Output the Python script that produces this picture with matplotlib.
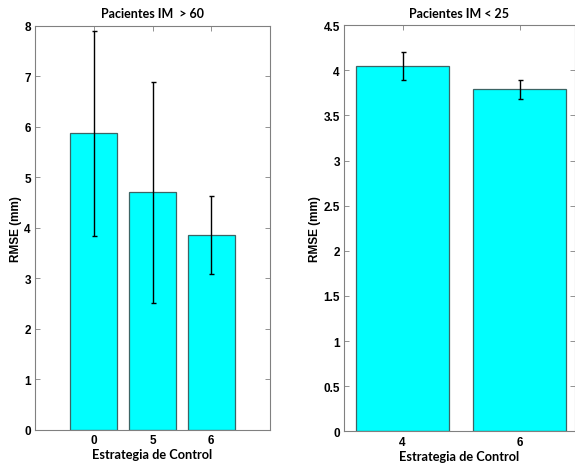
import matplotlib
matplotlib.use('Agg')
import matplotlib.pyplot as plt

# RMSE por estrategia de control, dos grupos de pacientes
estrategias_a = ['0', '5', '6']
rmse_a = [5.87, 4.70, 3.86]
err_a = [2.03, 2.19, 0.77]

estrategias_b = ['4', '6']
rmse_b = [4.05, 3.79]
err_b = [0.155, 0.105]

W, H = 575, 464
fig = plt.figure(figsize=(W / 100, H / 100), dpi=100)

tick_font = {'family': 'Liberation Sans', 'weight': 'bold', 'size': 8.5}
xlab_font = {'family': 'Lato', 'weight': 'bold', 'size': 9.2}
title_font = {'family': 'Lato', 'weight': 'bold', 'size': 9}


def panel(rect, names, vals, errs, xlim, ylim, yticks, titulo):
    x0, y0, x1, y1 = rect
    ax = fig.add_axes([x0 / W, 1 - y1 / H, (x1 - x0) / W, (y1 - y0) / H])
    pos = list(range(1, len(vals) + 1))
    ax.bar(pos, vals, width=0.8, color='#00ffff', edgecolor='#3c6464',
           linewidth=0.9, zorder=2)
    ax.errorbar(pos, vals, yerr=errs, fmt='none', ecolor='black',
                elinewidth=1.0, capsize=1.8, capthick=1.0, zorder=3)
    ax.set_xlim(*xlim)
    ax.set_ylim(*ylim)
    ax.set_xticks(pos)
    ax.set_xticklabels(names, fontdict=tick_font)
    ax.set_yticks(yticks)
    ax.set_yticklabels(['%g' % t for t in yticks], fontdict=tick_font)
    ax.tick_params(direction='in', length=3.5, width=0.6, color='#808080',
                   top=True, right=True, pad=3)
    for s in ax.spines.values():
        s.set_color('#808080')
        s.set_linewidth(0.8)
    ax.set_xlabel('Estrategia de Control', fontdict=xlab_font, labelpad=1.5)
    ax.set_ylabel('RMSE (mm)', fontdict={'family': 'Liberation Sans',
                  'weight': 'bold', 'size': 8.5}, labelpad=1.5)
    ax.set_title(titulo, fontdict=title_font, pad=6)
    return ax


panel((35, 26.5, 270, 431), estrategias_a, rmse_a, err_a, (0, 4),
      (0, 8), list(range(0, 9)), 'Pacientes IM  > 60')
panel((344, 26.2, 574.5, 432.4), estrategias_b, rmse_b, err_b, (0.5, 2.47),
      (0, 4.5), [0, 0.5, 1, 1.5, 2, 2.5, 3, 3.5, 4, 4.5], 'Pacientes IM < 25')

fig.savefig('out.png', dpi=100)
